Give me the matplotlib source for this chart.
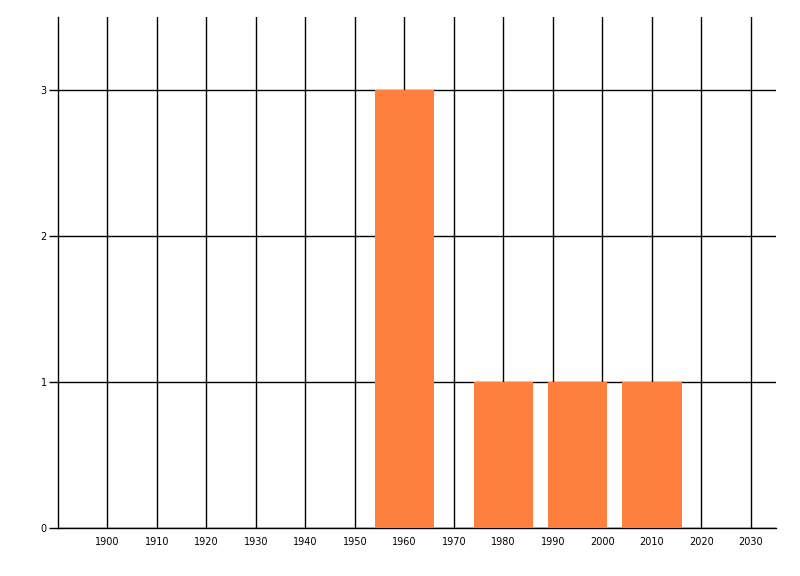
import matplotlib
matplotlib.use("Agg")
import matplotlib.pyplot as plt

# decades / years and counts
anos = [1960, 1980, 1995, 2010]
contagens = [3, 1, 1, 1]
ticks_x = list(range(1900, 2031, 10))
ticks_y = [0, 1, 2, 3]

fig = plt.figure(figsize=(8, 5.76), dpi=100)
ax = fig.add_axes([58 / 800, 1 - 528.3 / 576, (775.7 - 58) / 800, (528.3 - 17) / 576])

ax.bar(anos, contagens, width=12, color="#FF7F3F", zorder=3)

ax.set_xlim(1890, 2035)
ax.set_ylim(0, 3.5)
ax.set_xticks(ticks_x)
ax.set_yticks(ticks_y)

ax.grid(True, color="black", linewidth=1.0, zorder=1)
ax.set_axisbelow(True)

for lado in ["top", "right"]:
    ax.spines[lado].set_visible(False)
for lado in ["left", "bottom"]:
    ax.spines[lado].set_linewidth(1.0)
    ax.spines[lado].set_color("black")

ax.tick_params(axis="x", length=0, pad=6, labelsize=7)
ax.tick_params(axis="y", length=6.5, width=1.0, pad=1.5, labelsize=7)

fig.savefig("out.png", dpi=100)
